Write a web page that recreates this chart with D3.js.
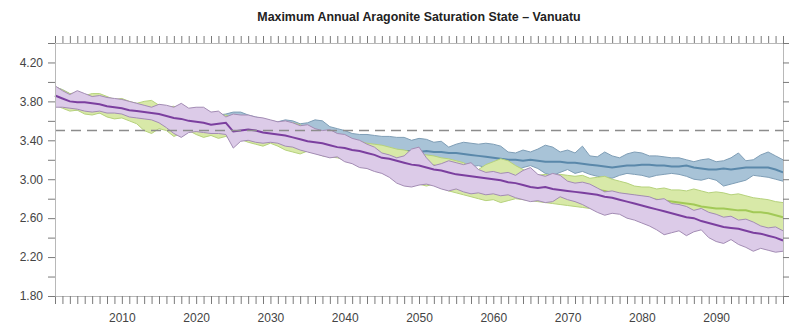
<!DOCTYPE html>
<html>
<head>
<meta charset="utf-8">
<script src="https://cdn.jsdelivr.net/npm/d3@7"></script>
<style>
  html, body { margin: 0; padding: 0; background: #fff; }
  svg { display: block; font-family: "Liberation Sans", Arial, Helvetica, sans-serif; }
</style>
</head>
<body>
<svg id="chart" width="791" height="324"></svg>
<script>
// ---------------- DATA ----------------
const title = "Maximum Annual Aragonite Saturation State \u2013 Vanuatu";
const years = d3.range(2001, 2100); // 2001..2099
const xLabelYears = [2010, 2020, 2030, 2040, 2050, 2060, 2070, 2080, 2090];
const yLabelValues = [1.8, 2.2, 2.6, 3.0, 3.4, 3.8, 4.2];
const yMinorValues = [1.8, 2.0, 2.2, 2.4, 2.6, 2.8, 3.0, 3.2, 3.4, 3.6, 3.8, 4.0, 4.2, 4.4];
const thresholdValue = 3.5;

// RCP4.5 (blue)
const blueMean = [
  3.86,3.84,3.81,3.80,3.79,3.78,3.77,3.76,3.74,3.73,
  3.72,3.71,3.69,3.68,3.67,3.65,3.64,3.63,3.62,3.60,
  3.59,3.58,3.57,3.56,3.55,3.54,3.53,3.52,3.51,3.50,
  3.49,3.48,3.47,3.46,3.45,3.43,3.42,3.40,3.38,3.37,
  3.35,3.34,3.33,3.32,3.31,3.30,3.30,3.29,3.29,3.28,
  3.29,3.28,3.28,3.27,3.27,3.26,3.25,3.24,3.23,3.22,
  3.21,3.20,3.20,3.19,3.20,3.19,3.18,3.18,3.18,3.17,
  3.17,3.16,3.15,3.14,3.13,3.12,3.13,3.14,3.14,3.15,
  3.15,3.14,3.14,3.13,3.13,3.14,3.12,3.11,3.10,3.10,
  3.11,3.10,3.11,3.12,3.12,3.12,3.12,3.10,3.07];
const blueHigh = [
  3.95,3.92,3.88,3.88,3.86,3.85,3.84,3.83,3.82,3.80,
  3.79,3.78,3.76,3.75,3.74,3.73,3.72,3.71,3.70,3.69,
  3.68,3.67,3.66,3.67,3.69,3.69,3.66,3.64,3.62,3.60,
  3.59,3.61,3.60,3.57,3.58,3.61,3.60,3.54,3.52,3.50,
  3.47,3.46,3.46,3.45,3.44,3.44,3.43,3.43,3.40,3.42,
  3.41,3.38,3.39,3.33,3.36,3.38,3.37,3.36,3.37,3.36,
  3.34,3.28,3.27,3.30,3.28,3.31,3.35,3.33,3.28,3.30,
  3.27,3.34,3.24,3.23,3.28,3.24,3.22,3.26,3.28,3.27,
  3.24,3.24,3.23,3.22,3.22,3.20,3.18,3.20,3.21,3.18,
  3.19,3.22,3.27,3.19,3.20,3.25,3.28,3.24,3.20];
const blueLow = [
  3.76,3.74,3.72,3.71,3.70,3.69,3.68,3.67,3.66,3.65,
  3.63,3.62,3.60,3.59,3.58,3.56,3.55,3.54,3.53,3.51,
  3.50,3.49,3.48,3.47,3.46,3.45,3.44,3.43,3.42,3.41,
  3.40,3.38,3.37,3.36,3.35,3.33,3.32,3.30,3.29,3.28,
  3.26,3.25,3.24,3.23,3.22,3.21,3.20,3.19,3.18,3.18,
  3.17,3.17,3.16,3.15,3.15,3.14,3.13,3.14,3.12,3.11,
  3.13,3.10,3.08,3.12,3.14,3.11,3.06,3.04,3.07,3.10,
  3.06,3.08,3.05,3.03,3.02,3.01,3.04,3.06,3.05,3.04,
  3.02,3.04,3.05,3.06,3.05,3.03,3.00,2.99,3.01,2.99,
  2.93,2.95,2.97,2.99,3.04,3.03,3.02,3.00,2.98];

// RCP6.0 (green)
const greenMean = [
  3.86,3.84,3.81,3.80,3.80,3.78,3.77,3.76,3.74,3.73,
  3.72,3.70,3.69,3.67,3.66,3.64,3.63,3.61,3.60,3.59,
  3.58,3.57,3.55,3.54,3.53,3.51,3.50,3.48,3.47,3.46,
  3.45,3.43,3.42,3.40,3.39,3.37,3.36,3.34,3.33,3.31,
  3.30,3.28,3.27,3.25,3.24,3.22,3.21,3.19,3.18,3.17,
  3.15,3.14,3.12,3.11,3.10,3.08,3.07,3.06,3.04,3.03,
  3.02,3.01,3.00,2.99,2.98,2.97,2.96,2.95,2.94,2.93,
  2.92,2.91,2.90,2.89,2.88,2.86,2.85,2.84,2.83,2.82,
  2.80,2.79,2.78,2.77,2.76,2.75,2.74,2.72,2.71,2.70,
  2.70,2.69,2.68,2.68,2.66,2.66,2.65,2.63,2.61];
const greenHigh = [
  3.95,3.92,3.88,3.89,3.86,3.88,3.88,3.85,3.82,3.83,
  3.80,3.78,3.80,3.81,3.76,3.74,3.75,3.72,3.70,3.71,
  3.68,3.67,3.65,3.66,3.63,3.62,3.60,3.61,3.58,3.56,
  3.55,3.57,3.58,3.56,3.52,3.50,3.47,3.46,3.44,3.42,
  3.40,3.39,3.37,3.36,3.35,3.33,3.31,3.30,3.28,3.26,
  3.25,3.24,3.22,3.21,3.19,3.17,3.12,3.10,3.15,3.18,
  3.21,3.19,3.14,3.10,3.06,3.04,3.05,3.03,3.05,3.04,
  3.03,3.04,3.01,3.02,3.03,3.00,2.98,2.96,2.93,2.92,
  2.92,2.90,2.91,2.89,2.89,2.88,2.90,2.88,2.86,2.87,
  2.86,2.84,2.85,2.83,2.81,2.80,2.79,2.77,2.76];
const greenLow = [
  3.76,3.73,3.70,3.71,3.67,3.66,3.68,3.64,3.62,3.63,
  3.60,3.57,3.50,3.47,3.52,3.50,3.44,3.47,3.50,3.46,
  3.43,3.45,3.42,3.44,3.40,3.41,3.38,3.36,3.34,3.37,
  3.34,3.30,3.28,3.26,3.29,3.27,3.24,3.23,3.22,3.20,
  3.18,3.15,3.13,3.09,3.08,3.07,3.03,2.97,2.94,2.95,
  2.93,2.95,2.91,2.88,2.86,2.84,2.82,2.80,2.78,2.79,
  2.76,2.78,2.80,2.79,2.78,2.77,2.76,2.75,2.74,2.73,
  2.72,2.71,2.70,2.70,2.69,2.68,2.67,2.66,2.65,2.64,
  2.63,2.62,2.61,2.60,2.59,2.58,2.57,2.56,2.56,2.55,
  2.54,2.53,2.52,2.51,2.50,2.49,2.48,2.46,2.44];

// RCP8.5 (purple)
const purpleMean = [
  3.86,3.83,3.80,3.79,3.79,3.78,3.77,3.75,3.74,3.73,
  3.71,3.70,3.69,3.68,3.67,3.65,3.63,3.62,3.60,3.59,
  3.58,3.56,3.57,3.58,3.49,3.50,3.51,3.50,3.48,3.47,
  3.46,3.45,3.43,3.41,3.39,3.38,3.37,3.35,3.33,3.32,
  3.30,3.29,3.27,3.25,3.22,3.21,3.19,3.17,3.15,3.14,
  3.12,3.10,3.09,3.07,3.05,3.04,3.03,3.02,3.01,3.00,
  2.99,2.97,2.96,2.94,2.92,2.91,2.92,2.90,2.89,2.88,
  2.87,2.86,2.85,2.84,2.82,2.81,2.79,2.77,2.75,2.73,
  2.71,2.69,2.67,2.65,2.63,2.61,2.60,2.57,2.55,2.53,
  2.51,2.50,2.49,2.47,2.45,2.44,2.42,2.40,2.37];
const purpleHigh = [
  3.96,3.91,3.87,3.91,3.88,3.85,3.86,3.84,3.83,3.82,
  3.80,3.78,3.76,3.74,3.77,3.76,3.74,3.78,3.73,3.74,
  3.74,3.69,3.70,3.64,3.67,3.66,3.66,3.64,3.63,3.61,
  3.59,3.60,3.58,3.55,3.56,3.52,3.50,3.51,3.47,3.46,
  3.42,3.40,3.36,3.33,3.27,3.25,3.22,3.24,3.31,3.33,
  3.22,3.14,3.16,3.19,3.17,3.15,3.17,3.10,3.07,3.08,
  3.06,3.07,3.04,3.09,3.12,3.05,3.03,3.06,3.04,2.98,
  2.96,2.97,2.95,2.91,2.87,2.88,2.86,2.85,2.84,2.83,
  2.82,2.79,2.80,2.75,2.74,2.72,2.68,2.70,2.66,2.64,
  2.61,2.62,2.58,2.59,2.56,2.52,2.50,2.51,2.47];
const purpleLow = [
  3.74,3.74,3.73,3.72,3.70,3.69,3.70,3.68,3.68,3.67,
  3.64,3.63,3.62,3.61,3.58,3.53,3.47,3.43,3.48,3.49,
  3.48,3.47,3.47,3.46,3.32,3.39,3.40,3.38,3.37,3.38,
  3.37,3.34,3.33,3.30,3.28,3.26,3.24,3.22,3.23,3.18,
  3.16,3.12,3.11,3.08,3.06,3.02,2.96,2.93,2.92,2.94,
  2.95,2.93,2.90,2.88,2.90,2.87,2.85,2.86,2.84,2.85,
  2.83,2.84,2.81,2.79,2.77,2.78,2.76,2.77,2.82,2.79,
  2.77,2.74,2.70,2.66,2.63,2.65,2.64,2.60,2.58,2.55,
  2.52,2.48,2.43,2.45,2.47,2.42,2.46,2.48,2.40,2.36,
  2.34,2.38,2.33,2.30,2.26,2.29,2.27,2.25,2.26];

// ---------------- CHART ----------------
const W = 791, H = 324;
const margin = {top: 43, right: 8, bottom: 28, left: 55};
const svg = d3.select("#chart");

const x = d3.scaleLinear().domain([2001, 2099]).range([margin.left, W - margin.right]);
const y = d3.scaleLinear().domain([1.8, 4.4]).range([H - margin.bottom, margin.top]);

const series = [
  {name: "RCP4.5", mean: blueMean,   hi: blueHigh,   lo: blueLow,   fill: "#a8c3d7", edge: "#7f9eb6", line: "#5a88aa"},
  {name: "RCP6.0", mean: greenMean,  hi: greenHigh,  lo: greenLow,  fill: "#d8e9a8", edge: "#b6d27c", line: "#a2c957"},
  {name: "RCP8.5", mean: purpleMean, hi: purpleHigh, lo: purpleLow, fill: "#dccbe8", edge: "#a38cb4", line: "#7b3f9f"}
];

const plot = svg.append("g");

const area = d3.area()
  .x((d, i) => x(years[i]))
  .y0(d => y(d[0]))
  .y1(d => y(d[1]));
const line = d3.line()
  .x((d, i) => x(years[i]))
  .y(d => y(d));

series.forEach(s => {
  const band = years.map((yr, i) => [s.lo[i], s.hi[i]]);
  plot.append("path").datum(band)
    .attr("d", area)
    .attr("fill", s.fill)
    .attr("stroke", "none");
  plot.append("path").datum(s.hi).attr("d", line)
    .attr("fill", "none").attr("stroke", s.edge).attr("stroke-width", 1);
  plot.append("path").datum(s.lo).attr("d", line)
    .attr("fill", "none").attr("stroke", s.edge).attr("stroke-width", 1);
  plot.append("path").datum(s.mean).attr("d", line)
    .attr("fill", "none").attr("stroke", s.line).attr("stroke-width", 2);
});

// threshold dashed line
svg.append("line")
  .attr("x1", x(2001)).attr("x2", x(2099))
  .attr("y1", y(thresholdValue)).attr("y2", y(thresholdValue))
  .attr("stroke", "#8c8c8c").attr("stroke-width", 1.5)
  .attr("stroke-dasharray", "10,6");

// axes
const axisColor = "#b8b8b8";
const tickColor = "#7a7a7a";
const labelColor = "#444";

function styleAxis(g) {
  g.select(".domain").attr("stroke", axisColor);
  g.selectAll(".tick line").attr("stroke", tickColor);
  g.selectAll(".tick text").attr("fill", labelColor).attr("font-size", 12);
}

const fmtYear = d => xLabelYears.includes(d) ? String(d) : "";
svg.append("g")
  .attr("transform", `translate(0,${H - margin.bottom})`)
  .call(d3.axisBottom(x).tickValues(years).tickSize(8).tickPadding(9).tickFormat(fmtYear).tickSizeOuter(0))
  .call(styleAxis);
svg.append("g")
  .attr("transform", `translate(0,${margin.top})`)
  .call(d3.axisTop(x).tickValues(years).tickSize(7).tickFormat("").tickSizeOuter(0))
  .call(styleAxis);

const fmtY = d => yLabelValues.some(v => Math.abs(v - d) < 1e-6) ? d.toFixed(2) : "";
svg.append("g")
  .attr("transform", `translate(${margin.left},0)`)
  .call(d3.axisLeft(y).tickValues(yMinorValues).tickSize(7).tickPadding(5).tickFormat(fmtY).tickSizeOuter(0))
  .call(styleAxis);
svg.append("g")
  .attr("transform", `translate(${W - margin.right},0)`)
  .call(d3.axisRight(y).tickValues(yMinorValues).tickSize(6).tickFormat("").tickSizeOuter(0))
  .call(styleAxis);

svg.selectAll(".tick text").attr("font-family", "'Liberation Sans', Arial, Helvetica, sans-serif");

// title
svg.append("text")
  .attr("x", 419).attr("y", 21)
  .attr("text-anchor", "middle")
  .attr("font-size", 12.4)
  .attr("font-weight", "bold")
  .attr("fill", "#222")
  .text(title);
</script>
</body>
</html>
